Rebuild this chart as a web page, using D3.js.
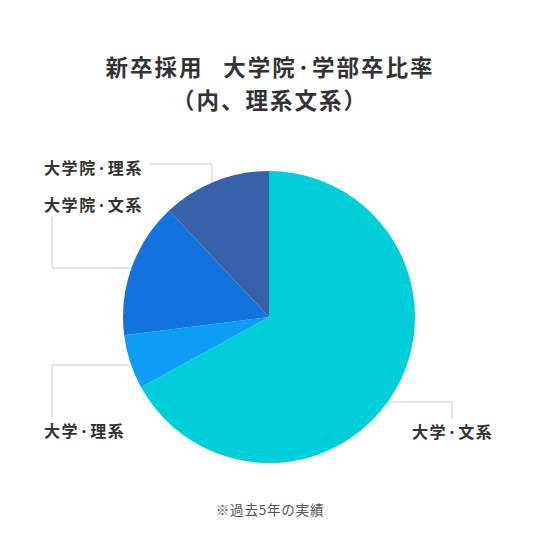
<!DOCTYPE html>
<html lang="ja">
<head>
<meta charset="utf-8">
<script src="https://cdn.jsdelivr.net/npm/d3@7"></script>
<style>
  html, body { margin: 0; padding: 0; background: #fff; }
  svg text { font-family: "Noto Sans CJK JP", "Noto Sans", sans-serif; fill: #333; }
</style>
</head>
<body>
<svg width="540" height="540"></svg>
<script>
// データ（時計回り、12時の位置から）
const categories = ['大学・文系', '大学・理系', '大学院・文系', '大学院・理系'];
const values = [67, 6, 15, 12];
const colors = ['#00CFDA', '#0D9DF4', '#1273DE', '#3761A9'];
const titleLines = ['新卒採用\u2002\u2009大学院·学部卒比率', '（内、理系文系）'];
const note = '※過去5年の実績';

const cx = 269, cy = 317, r = 146;

// ラベルの配置（引き出し線の折れ点とテキスト位置）
const labelLayout = {
  '大学・文系':   { text: [412, 438], anchor: 'start', line: [[269, 402], [452, 402], [452, 419]] },
  '大学・理系':   { text: [44, 437],  anchor: 'start', line: [[269, 365], [52, 365], [52, 417]] },
  '大学院・文系': { text: [44, 211],  anchor: 'start', line: [[269, 268], [52, 268], [52, 217]] },
  '大学院・理系': { text: [44, 174],  anchor: 'start', line: [[212, 317], [212, 164], [149, 164]] }
};

const svg = d3.select('svg');

// タイトル
svg.append('g').selectAll('text')
  .data(titleLines)
  .join('text')
  .attr('x', 270)
  .attr('y', (d, i) => 76 + i * 33)
  .attr('text-anchor', 'middle')
  .attr('font-size', 22.5)
  .attr('font-weight', 'bold')
  .attr('letter-spacing', 2)
  .text(d => d);

const data = categories.map((c, i) => ({ name: c, value: values[i], color: colors[i] }));

const pie = d3.pie().sort(null).value(d => d.value);
const arc = d3.arc().innerRadius(0).outerRadius(r);
const arcs = pie(data);

// 引き出し線（円の裏側に描く）
const line = d3.line();
svg.append('g').selectAll('path')
  .data(arcs)
  .join('path')
  .attr('d', d => line(labelLayout[d.data.name].line))
  .attr('fill', 'none')
  .attr('stroke', '#ccc')
  .attr('stroke-width', 1);

// 円グラフ
svg.append('g')
  .attr('transform', `translate(${cx},${cy})`)
  .selectAll('path')
  .data(arcs)
  .join('path')
  .attr('d', arc)
  .attr('fill', d => d.data.color);

// ラベル
svg.append('g').selectAll('text')
  .data(arcs)
  .join('text')
  .attr('x', d => labelLayout[d.data.name].text[0])
  .attr('y', d => labelLayout[d.data.name].text[1])
  .attr('text-anchor', d => labelLayout[d.data.name].anchor)
  .attr('font-size', 16)
  .attr('font-weight', 'bold')
  .attr('letter-spacing', 1.6)
  .text(d => d.data.name.replace('・', '·'));

// 注記
svg.append('text')
  .attr('x', 270)
  .attr('y', 515)
  .attr('text-anchor', 'middle')
  .attr('font-size', 13.5)
  .attr('letter-spacing', 0.8)
  .style('fill', '#555')
  .text(note);
</script>
</body>
</html>
